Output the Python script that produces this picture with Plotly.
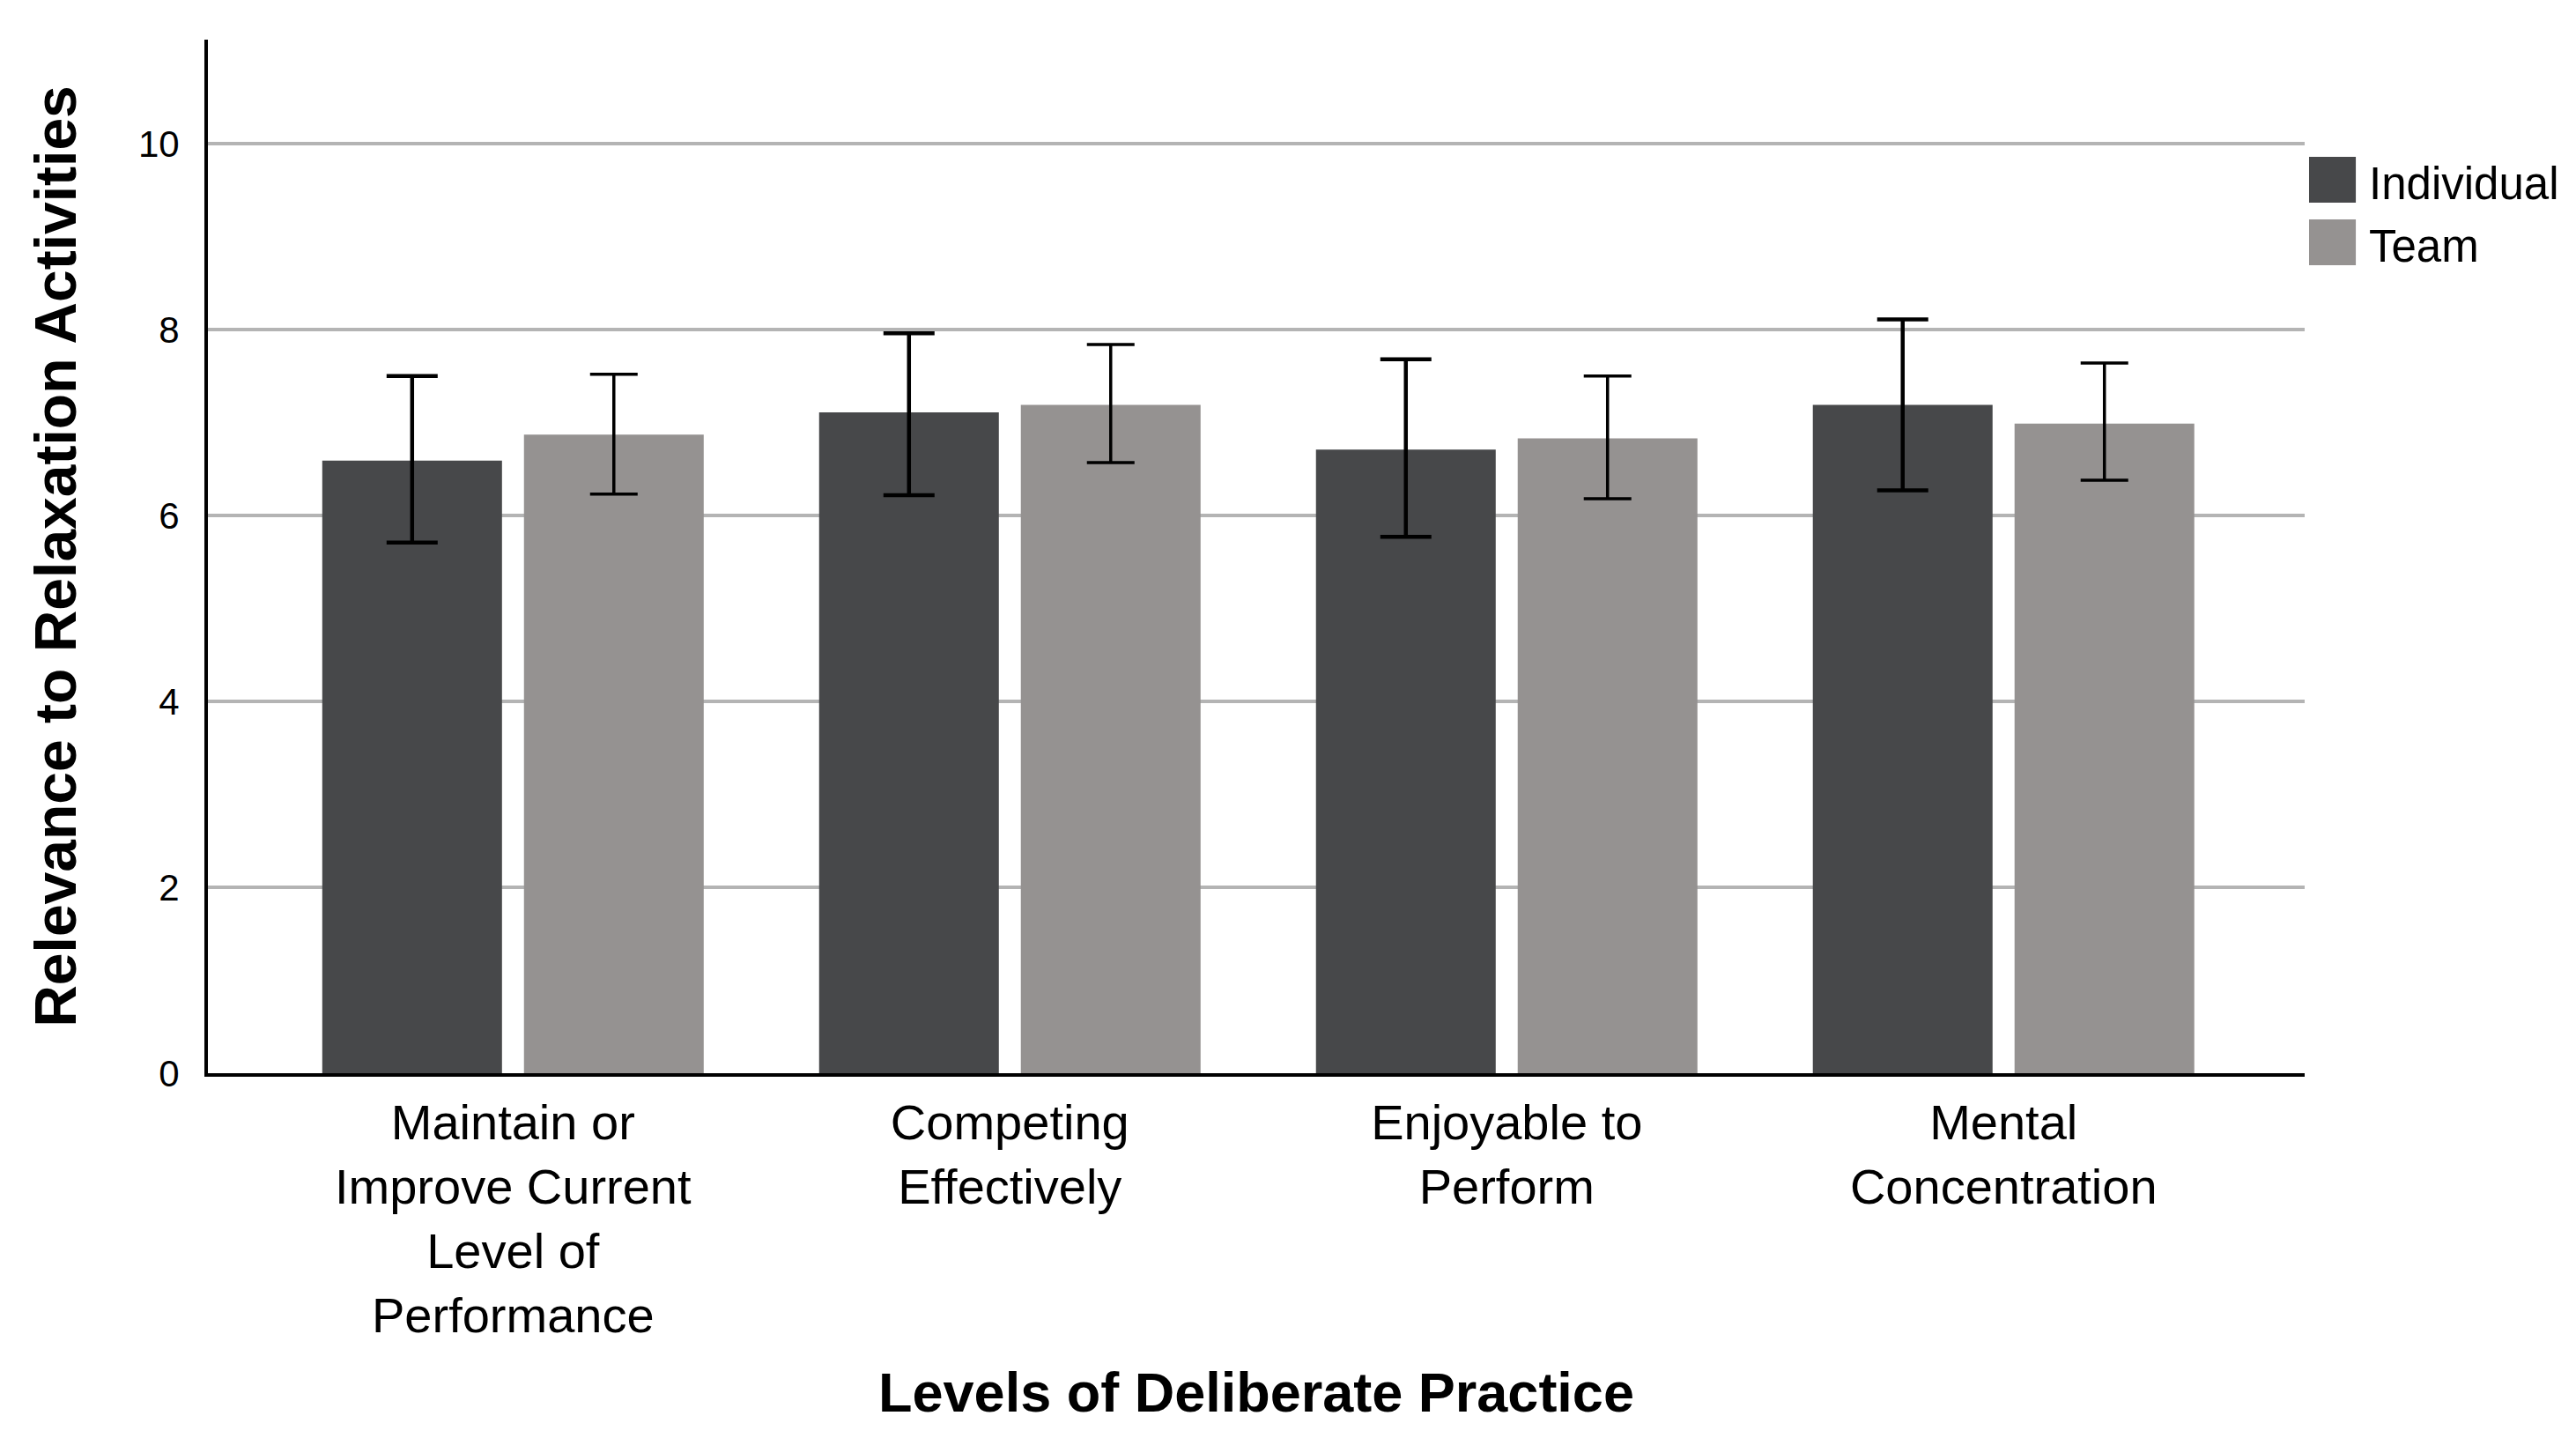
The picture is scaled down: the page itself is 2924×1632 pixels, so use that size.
import plotly.graph_objects as go

# ---- data ----
categories = [
    "Maintain or<br>Improve Current<br>Level of<br>Performance",
    "Competing<br>Effectively",
    "Enjoyable to<br>Perform",
    "Mental<br>Concentration",
]
series_names = ["Individual", "Team"]
series_colors = ["#47484A", "#959291"]

individual_mean = [6.59, 7.11, 6.71, 7.19]
individual_upper = [7.50, 7.96, 7.68, 8.11]
individual_lower = [5.71, 6.22, 5.77, 6.27]

team_mean = [6.87, 7.19, 6.83, 6.99]
team_upper = [7.52, 7.84, 7.50, 7.64]
team_lower = [6.23, 6.57, 6.18, 6.38]

y_ticks = [0, 2, 4, 6, 8, 10]

FONT = "Liberation Sans, Arial, Helvetica, sans-serif"

means = [individual_mean, team_mean]
uppers = [individual_upper, team_upper]
lowers = [individual_lower, team_lower]
err_thickness = [4.5, 3.5]
err_width = [29, 27]

fig = go.Figure()
for i, name in enumerate(series_names):
    m, u, l = means[i], uppers[i], lowers[i]
    fig.add_trace(go.Bar(
        name=name,
        x=categories,
        y=m,
        marker=dict(color=series_colors[i], line=dict(width=0)),
        error_y=dict(
            type="data",
            symmetric=False,
            array=[a - b for a, b in zip(u, m)],
            arrayminus=[b - c for b, c in zip(m, l)],
            color="black",
            thickness=err_thickness[i],
            width=err_width[i],
        ),
        showlegend=False,
    ))

# custom legend (large square swatches like the reference)
leg_x0, leg_x1 = 1.0021, 1.0244
leg_rows = [(0.8866, 0.8423), (0.8261, 0.7818)]
for i, name in enumerate(series_names):
    y_top, y_bot = leg_rows[i]
    fig.add_shape(type="rect", xref="paper", yref="paper",
                  x0=leg_x0, x1=leg_x1, y0=y_bot, y1=y_top,
                  fillcolor=series_colors[i], line=dict(width=0))
    fig.add_annotation(xref="paper", yref="paper", x=1.0300,
                       y=(y_top + y_bot) / 2 - 0.004,
                       text=name, showarrow=False, xanchor="left", yanchor="middle",
                       font=dict(family=FONT, size=51, color="black"))

fig.update_layout(
    width=2924,
    height=1632,
    autosize=False,
    margin=dict(l=228, r=316, t=37, b=422),
    paper_bgcolor="white",
    plot_bgcolor="white",
    barmode="group",
    bargap=0.188,
    bargroupgap=0.109,
    font=dict(family=FONT, color="black"),
    showlegend=False,
)

fig.update_yaxes(
    range=[0, 11.12],
    tickvals=y_ticks,
    ticktext=[str(v) for v in y_ticks],
    showgrid=True,
    gridcolor="#B4B4B4",
    gridwidth=4,
    zeroline=False,
    showline=True,
    linecolor="black",
    linewidth=4,
    ticks="",
    ticklabelstandoff=20,
    tickfont=dict(family=FONT, size=42, color="black"),
    title=dict(text="<b>Relevance to Relaxation Activities</b>",
               font=dict(family=FONT, size=66, color="black"),
               standoff=50),
    automargin=False,
)

fig.update_xaxes(
    type="category",
    range=[-0.614, 3.606],
    showgrid=False,
    zeroline=False,
    showline=True,
    linecolor="black",
    linewidth=4,
    layer="below traces",
    ticks="",
    ticklabelstandoff=4,
    tickfont=dict(family=FONT, size=56, color="black"),
    title=dict(text="<b>Levels of Deliberate Practice</b>",
               font=dict(family=FONT, size=63, color="black"),
               standoff=36),
    automargin=False,
)

fig.write_html("out.html")
